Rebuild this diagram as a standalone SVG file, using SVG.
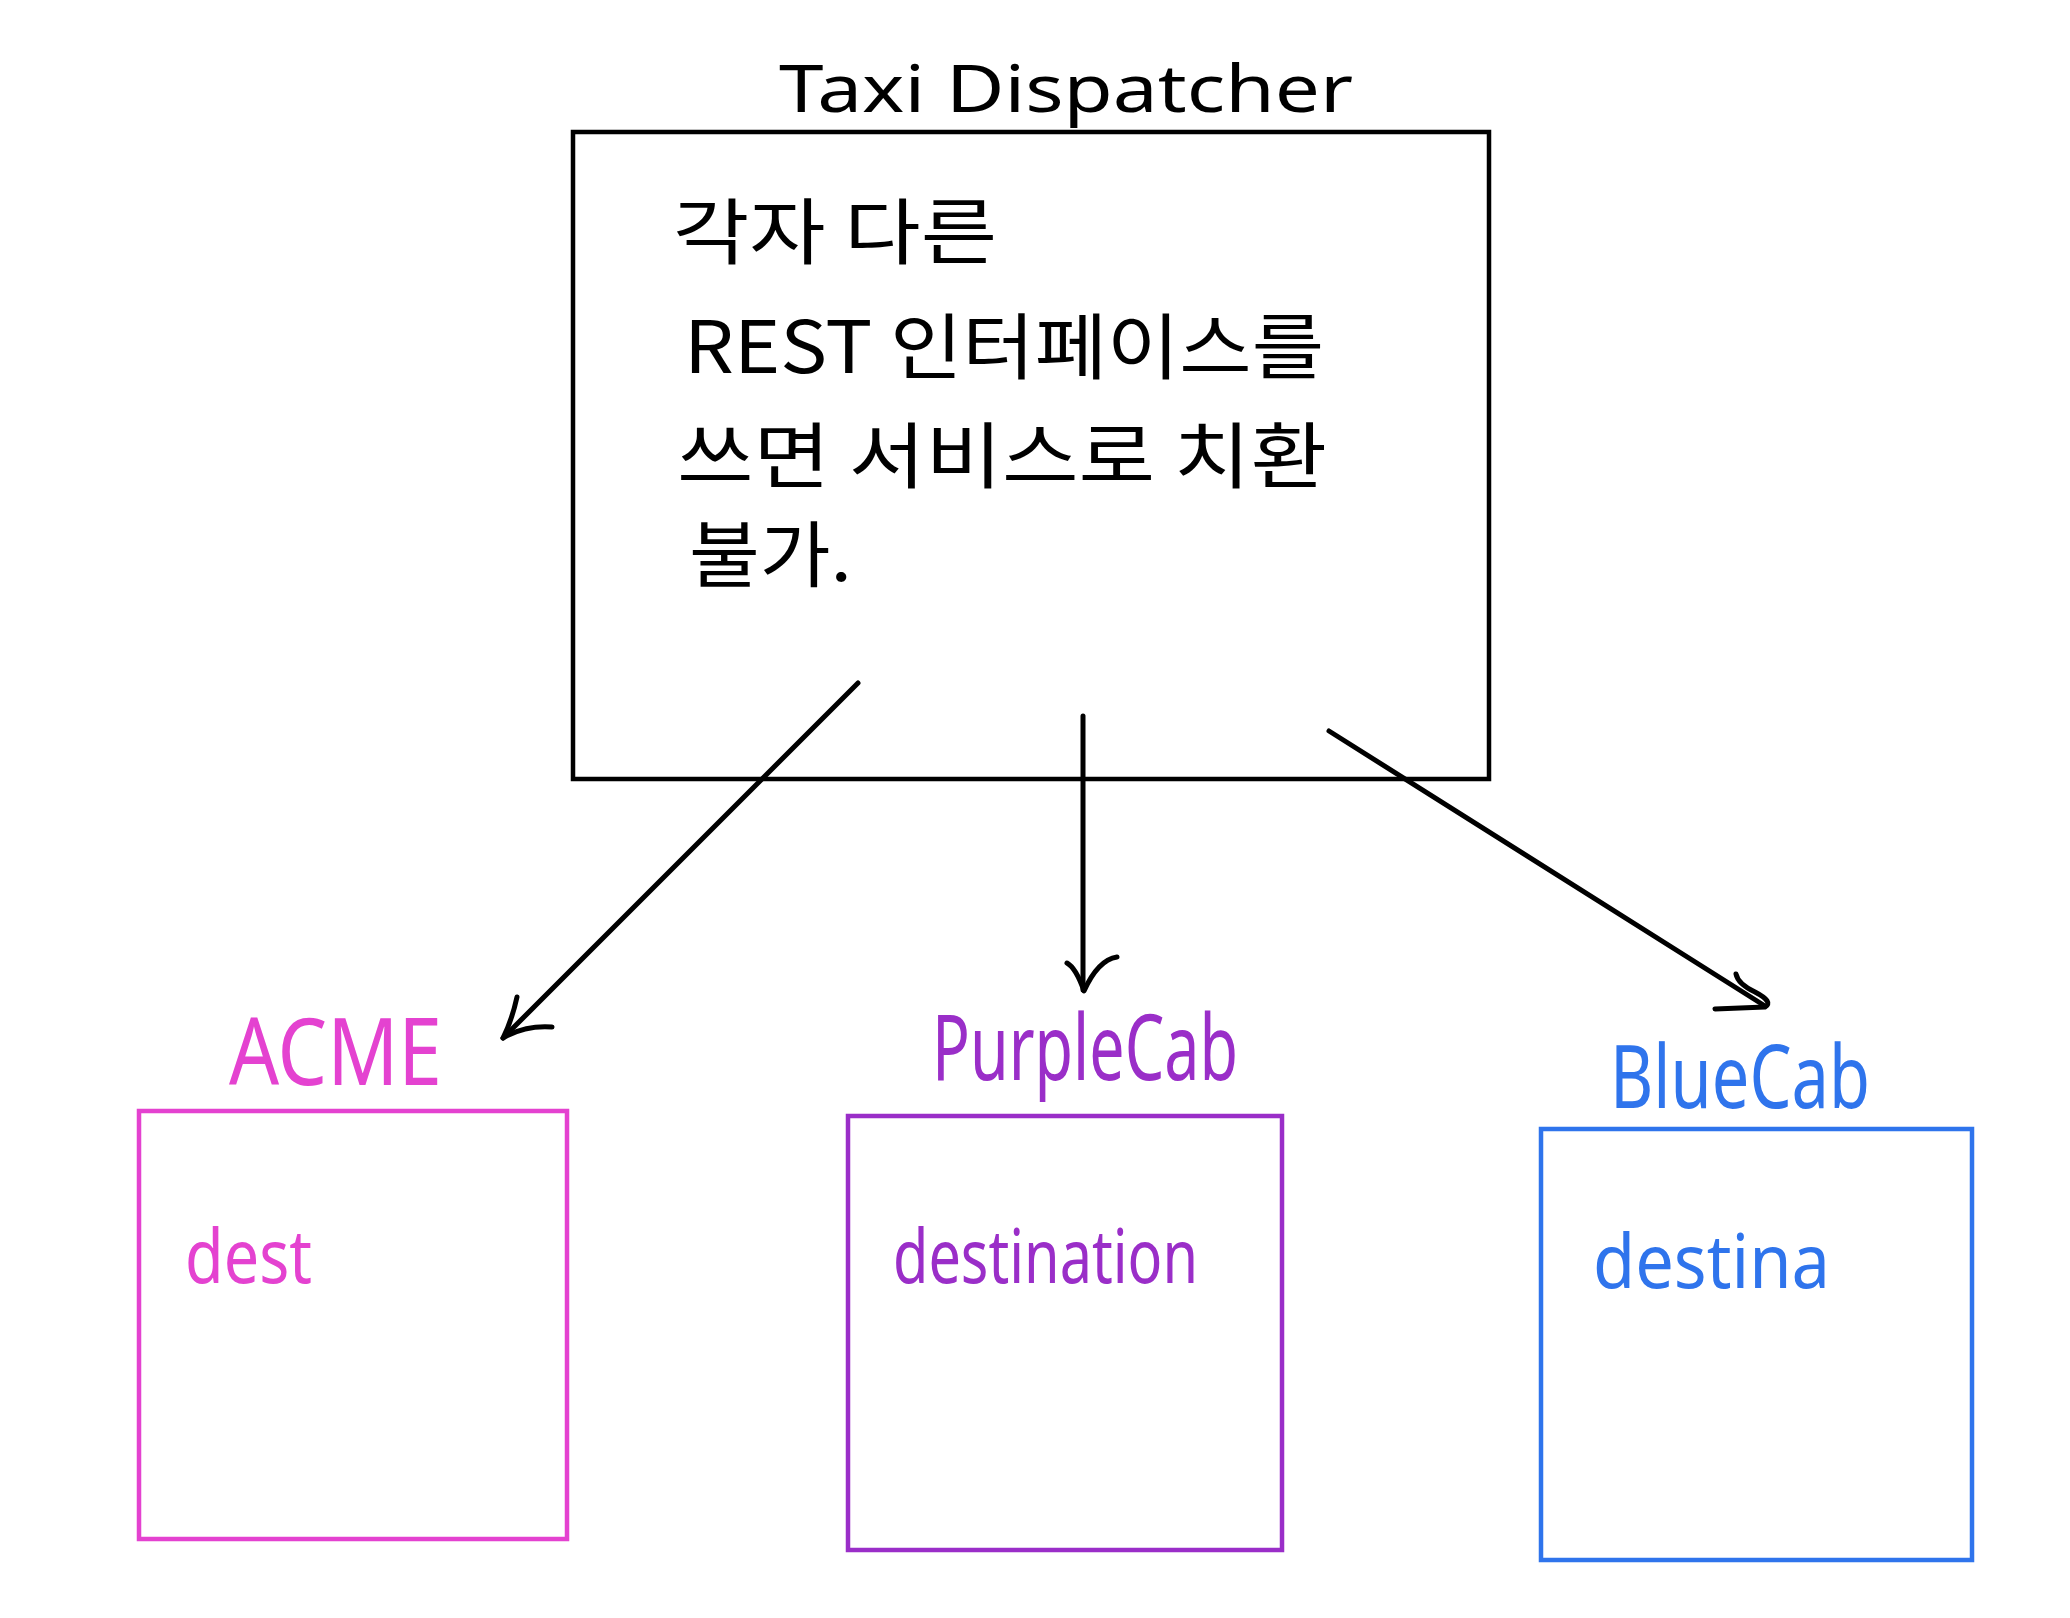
<svg xmlns="http://www.w3.org/2000/svg" width="2070" height="1618" viewBox="0 0 2070 1618">
<style>
.hand{font-family:"Noto Sans","Liberation Sans",sans-serif;}
.ko{font-family:"Noto Sans CJK KR","Noto Sans",sans-serif;font-size:72px;fill:#000;}
.box{fill:none;stroke-width:4.5;stroke-linejoin:miter;}
.conn{fill:none;stroke:#000;stroke-width:5;stroke-linecap:round;stroke-linejoin:round;}
.pink{stroke:#e442d0;}
.purple{stroke:#9a2ec8;}
.blue{stroke:#2f74ec;}
</style>
<rect width="2070" height="1618" fill="#fff"/>
<g id="dispatcher">
<text class="hand" x="779" y="112" font-size="66" textLength="574" lengthAdjust="spacingAndGlyphs" fill="#000">Taxi  Dispatcher</text>
<rect class="box" x="573" y="132" width="916" height="647" stroke="#000"/>
<text class="ko" x="673" y="258" textLength="324" lengthAdjust="spacingAndGlyphs">각자 다른</text>
<text class="ko" x="684" y="373" textLength="640" lengthAdjust="spacingAndGlyphs">REST 인터페이스를</text>
<text class="ko" x="677" y="482" textLength="650" lengthAdjust="spacingAndGlyphs">쓰면 서비스로 치환</text>
<text class="ko" x="689" y="581" textLength="163" lengthAdjust="spacingAndGlyphs">불가.</text>
</g>
<g id="acme">
<text class="hand" x="229" y="1085" font-size="94" textLength="213" lengthAdjust="spacingAndGlyphs" fill="#e442d0">ACME</text>
<rect class="box pink" x="139" y="1111" width="428" height="428"/>
<text class="hand" x="185" y="1283" font-size="74" textLength="127" lengthAdjust="spacingAndGlyphs" fill="#e442d0">dest</text>
</g>
<g id="purplecab">
<text class="hand" x="932" y="1080" font-size="92" textLength="306" lengthAdjust="spacingAndGlyphs" fill="#9a2ec8">PurpleCab</text>
<rect class="box purple" x="848" y="1116" width="434" height="434"/>
<text class="hand" x="893" y="1283" font-size="74" textLength="305" lengthAdjust="spacingAndGlyphs" fill="#9a2ec8">destination</text>
</g>
<g id="bluecab">
<text class="hand" x="1610" y="1108" font-size="88" textLength="260" lengthAdjust="spacingAndGlyphs" fill="#2f74ec">BlueCab</text>
<rect class="box blue" x="1541" y="1129" width="431" height="431"/>
<text class="hand" x="1593" y="1288" font-size="74" textLength="237" lengthAdjust="spacingAndGlyphs" fill="#2f74ec">destina</text>
</g>
<g id="connectors">
<path class="conn" d="M858,683 L503,1038"/>
<path class="conn" d="M517,997 Q512,1020 503,1038 Q525,1025 552,1027"/>
<path class="conn" d="M1083,716 L1083,990"/>
<path class="conn" d="M1067,963 Q1076,968 1084,991 Q1098,960 1117,957"/>
<path class="conn" d="M1329,731 L1765,1006"/>
<path class="conn" d="M1736,974 Q1738,984 1755,992 Q1774,1002 1765,1007 L1715,1009"/>
</g>
</svg>
